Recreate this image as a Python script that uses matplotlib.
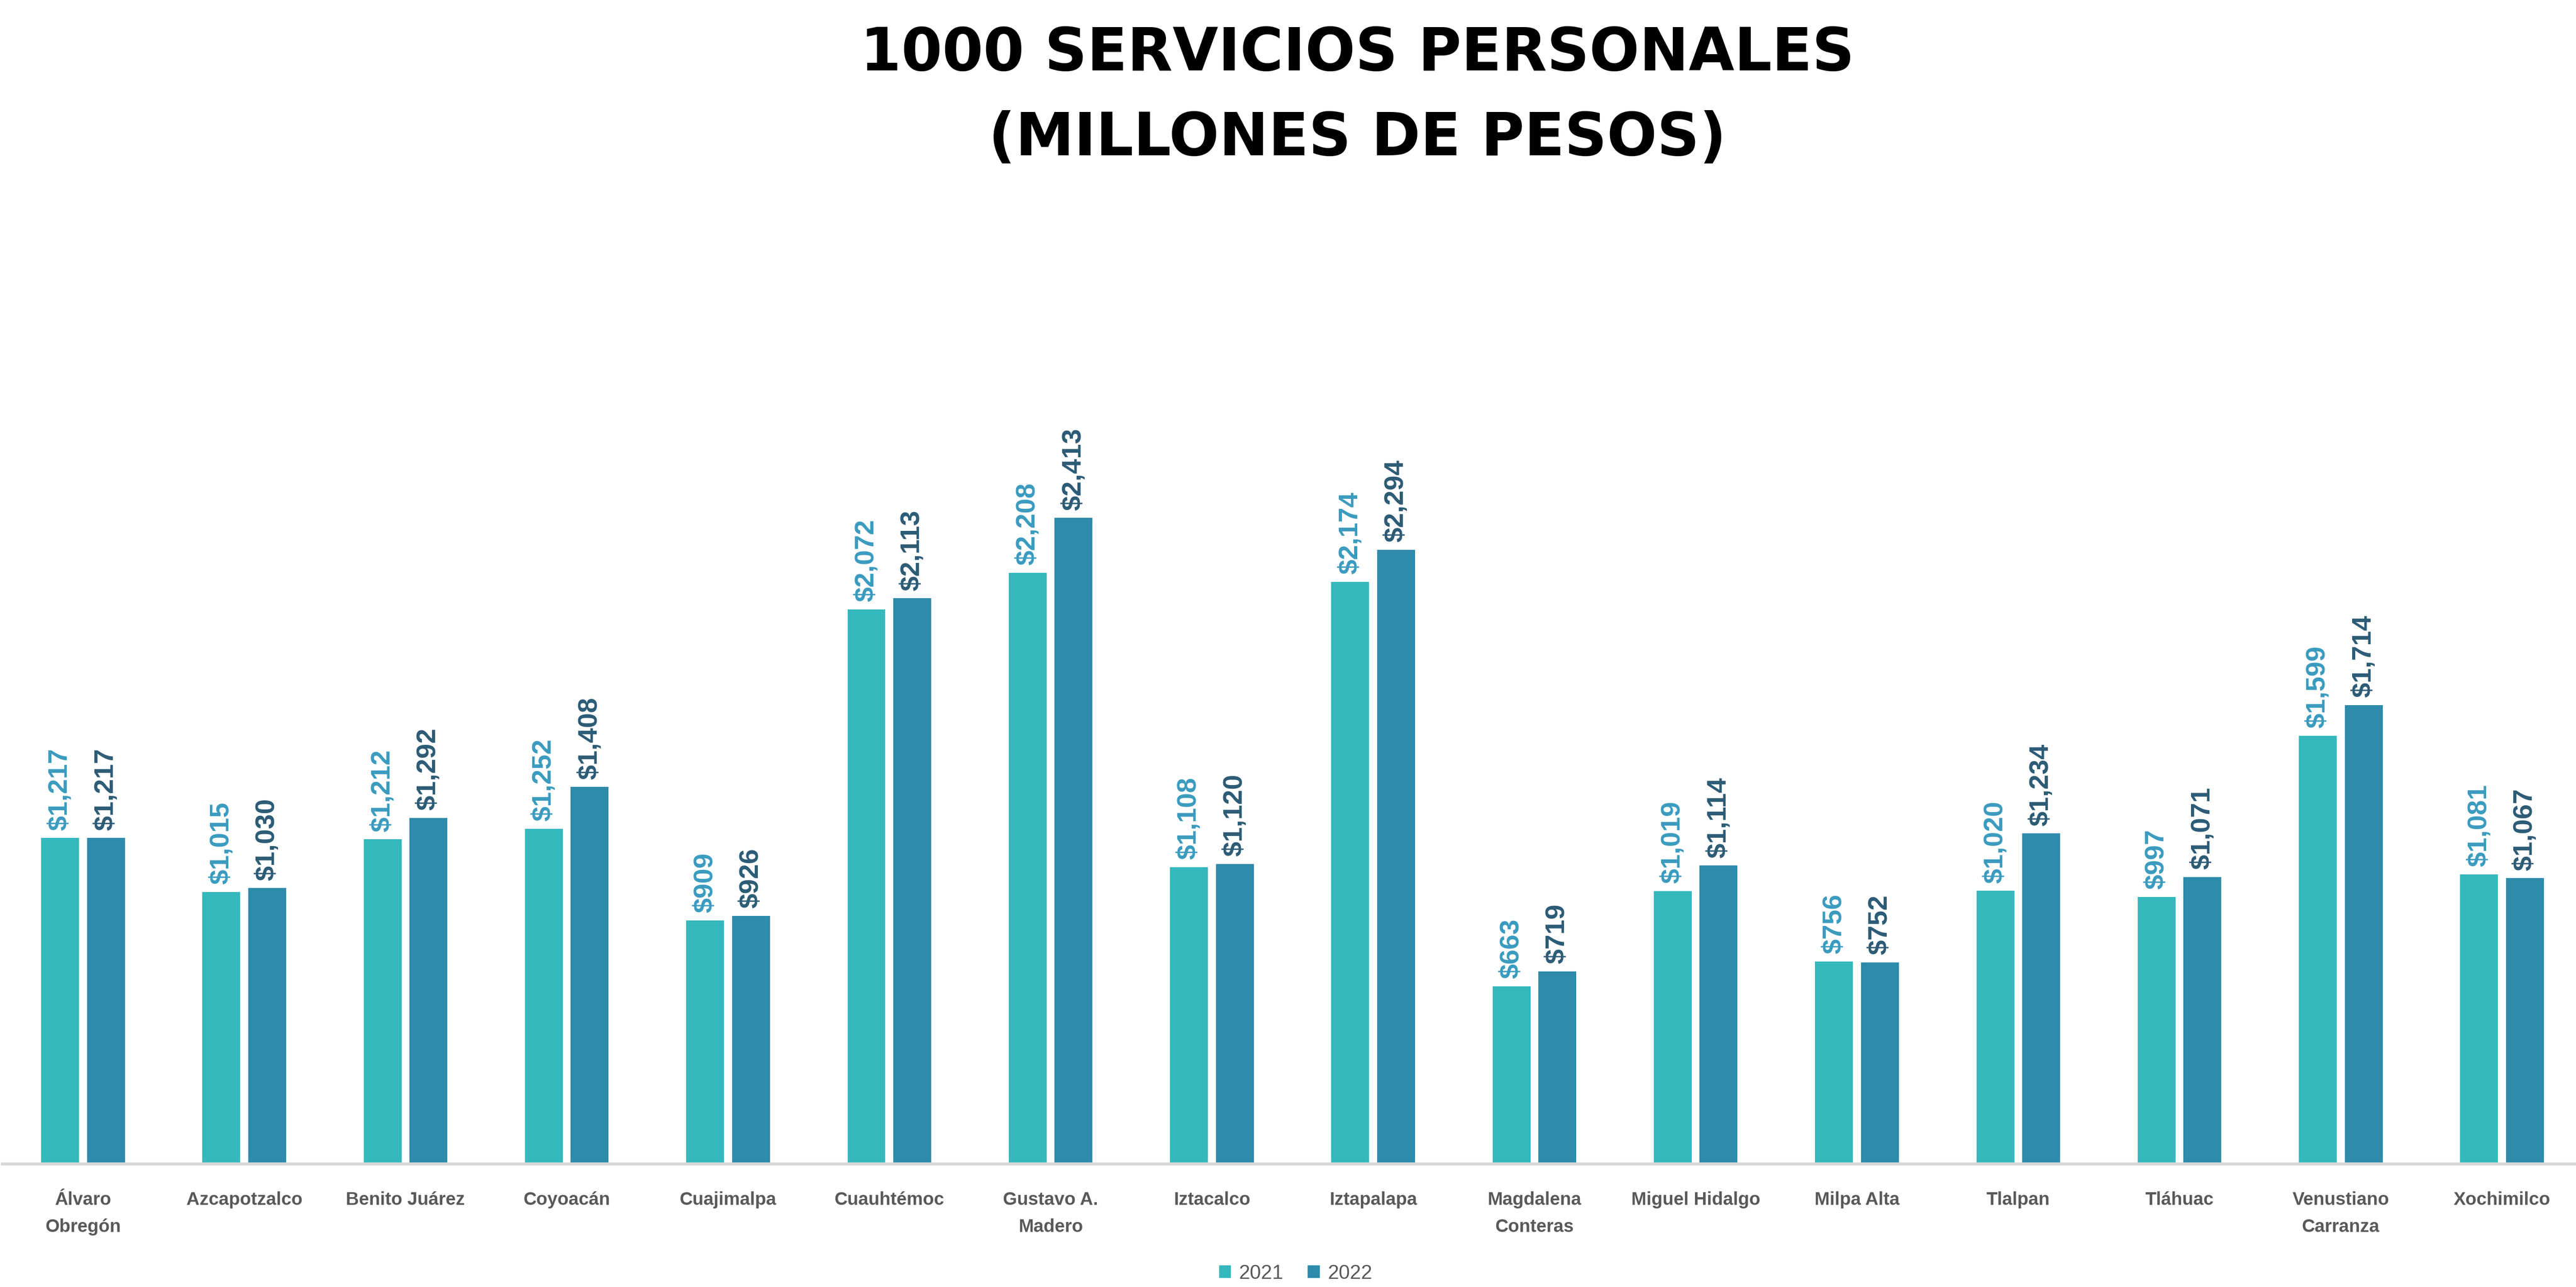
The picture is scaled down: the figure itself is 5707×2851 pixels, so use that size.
import matplotlib
matplotlib.use("Agg")
import matplotlib.pyplot as plt
import numpy as np

# values in millions of pesos
alcaldias = [
    "Álvaro\nObregón", "Azcapotzalco", "Benito Juárez", "Coyoacán", "Cuajimalpa",
    "Cuauhtémoc", "Gustavo A.\nMadero", "Iztacalco", "Iztapalapa", "Magdalena\nConteras",
    "Miguel Hidalgo", "Milpa Alta", "Tlalpan", "Tláhuac", "Venustiano\nCarranza", "Xochimilco",
]
monto_2021 = [1217, 1015, 1212, 1252, 909, 2072, 2208, 1108, 2174, 663, 1019, 756, 1020, 997, 1599, 1081]
monto_2022 = [1217, 1030, 1292, 1408, 926, 2113, 2413, 1120, 2294, 719, 1114, 752, 1234, 1071, 1714, 1067]
years = ["2021", "2022"]

bar_colors = ["#35b8bd", "#2e8bab"]
label_colors = ["#3a9bbf", "#2c5b75"]
tick_font = ["Liberation Sans Narrow", "Liberation Sans", "DejaVu Sans"]

fig = plt.figure(figsize=(57.07, 28.51), dpi=100)
ax = fig.add_axes([0.0009, 0.0958, 1.0017, 0.65])

x = np.arange(len(alcaldias))
width = 0.235
offset = 0.142
series = [monto_2021, monto_2022]
for i, vals in enumerate(series):
    pos = x + (offset if i else -offset)
    bars = ax.bar(pos, vals, width=width, color=bar_colors[i], label=years[i], zorder=2)
    for b, v in zip(bars, vals):
        ax.annotate(f"${v:,}", (b.get_x() + b.get_width() / 2, v),
                    xytext=(0, 12), textcoords="offset points",
                    rotation=90, ha="center", va="bottom", fontweight="bold",
                    fontsize=43, color=label_colors[i], family=tick_font)

ax.set_xlim(-0.5, len(alcaldias) - 0.5)
ax.set_ylim(0, 3126)
ax.set_yticks([])
ax.set_xticks(x)
ax.set_xticklabels(alcaldias, fontsize=29, fontweight="bold", color="#595959",
                   family=tick_font, linespacing=1.75)
ax.tick_params(axis="x", length=0, pad=44)
for side in ["top", "right", "left"]:
    ax.spines[side].set_visible(False)
ax.spines["bottom"].set_color("#d9d9d9")
ax.spines["bottom"].set_linewidth(5)

fig.text(0.527, 0.958, "1000 SERVICIOS PERSONALES", ha="center", va="center",
         fontsize=94, family="DejaVu Sans", fontweight="bold")
fig.text(0.527, 0.892, "(MILLONES DE PESOS)", ha="center", va="center",
         fontsize=94, family="DejaVu Sans", fontweight="bold")

fig.legend(loc="center", bbox_to_anchor=(0.503, 0.0105), ncol=2, frameon=False,
           prop={"family": tick_font, "size": 32}, handlelength=0.6, handleheight=0.6,
           columnspacing=1.2, handletextpad=0.4, labelcolor="#595959")

fig.savefig("out.png", dpi=100)
